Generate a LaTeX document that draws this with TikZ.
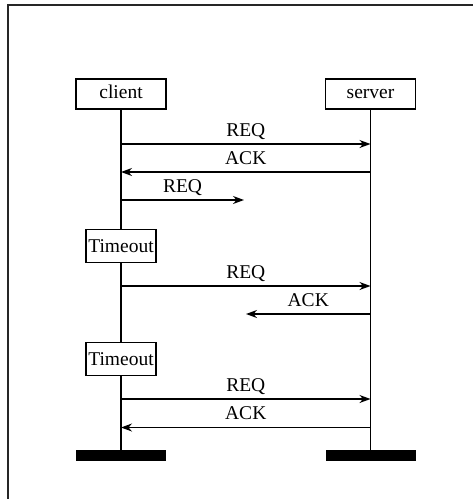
\documentclass[tikz,border=0pt]{standalone}
\usepackage{fontspec}
\setmainfont{Liberation Serif}
\usetikzlibrary{arrows.meta}
\begin{document}
\begin{tikzpicture}[x=1pt,y=-1pt,
  every node/.style={font=\fontsize{19.5}{23}\selectfont},
  frame/.style={draw=black!85, line width=1.5pt},
  actor/.style={draw, line width=1.1pt, minimum width=90pt, minimum height=30pt, inner sep=1pt,
    text height=13pt, text depth=4pt},
  tobox/.style={draw, fill=white, line width=1.1pt, minimum width=70pt, minimum height=33pt, inner sep=1pt},
  endbar/.style={fill=black, minimum width=90pt, minimum height=11pt, inner sep=0pt},
  life/.style={line width=1.2pt},
  msg/.style={line width=1.2pt, -{Stealth[length=11pt,width=8pt,inset=3.5pt]}},
  lbl/.style={midway, anchor=base, yshift=8pt, inner sep=0pt}]
\useasboundingbox (0,0) rectangle (473,499);
% outer frame (top and left edges)
\draw[frame] (473,5) -| (8,499);

% participants and lifelines
\node[actor] (client) at (121,94) {client};
\node[actor] (server) at (370.5,94) {server};
\node[endbar] (cend) at (121,455.5) {};
\node[endbar] (send) at (370.5,455.5) {};
\draw[life] (client) -- (cend);
\draw[life] (server) -- (send);

% timeouts on the client
\node[tobox] (t1) at (121,246) {Timeout};
\node[tobox] (t2) at (121,359) {Timeout};

% message end points
\coordinate (c1) at (121,144);   \coordinate (s1) at (370.5,144);
\coordinate (c2) at (121,172);   \coordinate (s2) at (370.5,172);
\coordinate (c3) at (121,200);   \coordinate (h3) at (244,200);
\coordinate (c4) at (121,286);   \coordinate (s4) at (370.5,286);
\coordinate (h5) at (246,314);   \coordinate (s5) at (370.5,314);
\coordinate (c6) at (121,399);   \coordinate (s6) at (370.5,399);
\coordinate (c7) at (121,427.5); \coordinate (s7) at (370.5,427.5);

% messages
\draw[msg] (c1) -- (s1) node[lbl] {REQ};
\draw[msg] (s2) -- (c2) node[lbl] {ACK};
\draw[msg] (c3) -- (h3) node[lbl] {REQ};
\draw[msg] (c4) -- (s4) node[lbl] {REQ};
\draw[msg] (s5) -- (h5) node[lbl] {ACK};
\draw[msg] (c6) -- (s6) node[lbl] {REQ};
\draw[msg] (s7) -- (c7) node[lbl] {ACK};
\end{tikzpicture}
\end{document}
